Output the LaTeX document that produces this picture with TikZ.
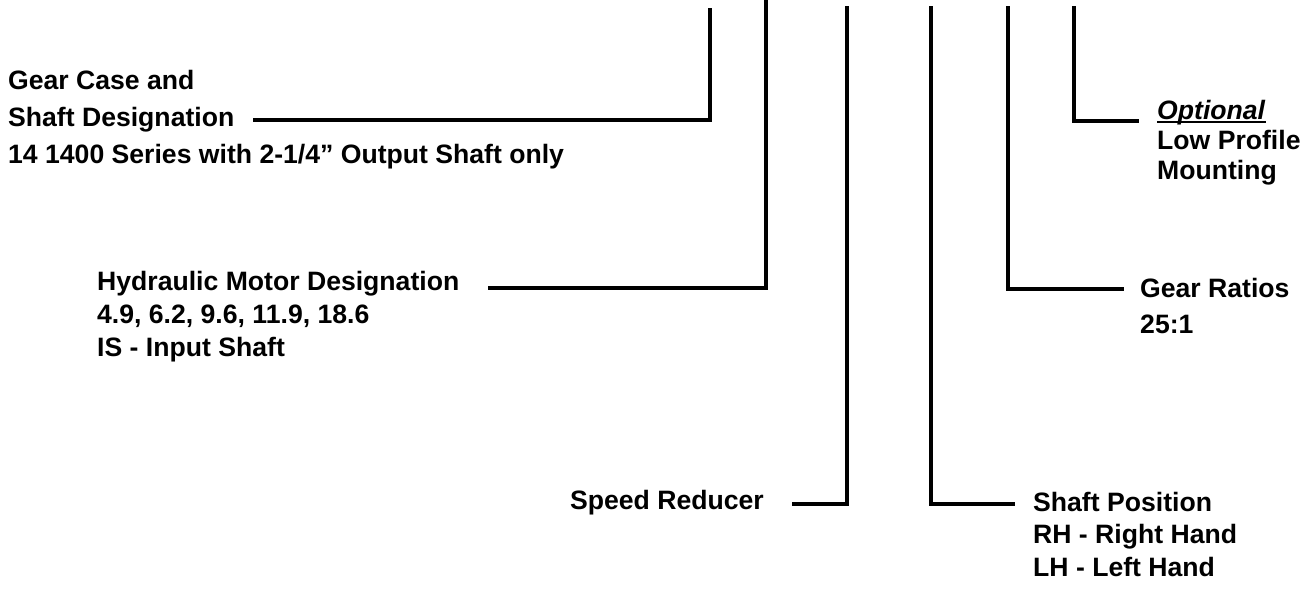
\documentclass[tikz,border=0pt]{standalone}
\usepackage{fontspec}
\setmainfont{Liberation Sans}
\usetikzlibrary{positioning}
\newcommand{\ulined}[1]{\setbox0\hbox{#1}\rlap{\rule[-3.5pt]{\wd0}{2.2pt}}\box0}
\tikzset{
  desc/.style={anchor=north west, inner sep=0pt, align=left,
    font=\bfseries\fontsize{26.6pt}{#1pt}\selectfont},
  desc/.default=32,
  leader/.style={line width=4.5pt, line join=miter, line cap=butt}
}

\begin{document}
\begin{tikzpicture}[x=1pt, y=-1pt]
  \useasboundingbox (0,0) rectangle (1315,590);

  \coordinate (casetop) at (710,8);
  \coordinate (motortop) at (766,0);
  \coordinate (reducertop) at (847,6);
  \coordinate (shafttop) at (931,6);
  \coordinate (ratiotop) at (1008,6);
  \coordinate (mounttop) at (1074,6);

  \coordinate (caseend) at (253,120);
  \coordinate (motorend) at (488,288);
  \coordinate (reducerend) at (792,504);
  \coordinate (shaftend) at (1015,504);
  \coordinate (ratioend) at (1124,289);
  \coordinate (mountend) at (1139,121);

  \node[desc=37] (gearcase) at (8,70.5)
    {Gear Case and\\Shaft Designation\\14 1400 Series with 2-1/4'' Output Shaft only};
  \node[desc=33] (motor) at (97,271.5)
    {Hydraulic Motor Designation\\4.9, 6.2, 9.6, 11.9, 18.6\\IS - Input Shaft};
  \node[desc, anchor=north east] (reducer) at (764,489.7) {Speed Reducer};
  \node[desc=32.5] (shaftpos) at (1033,491.7)
    {Shaft Position\\RH - Right Hand\\LH - Left Hand};
  \node[desc=36] (ratios) at (1140,278) {Gear Ratios\\25:1};
  \node[desc=30] (mounting) at (1157,100.5)
    {\ulined{\textit{Optional}}\\Low Profile\\Mounting};

  \draw[leader] (casetop) |- (caseend);
  \draw[leader] (motortop) |- (motorend);
  \draw[leader] (reducertop) |- (reducerend);
  \draw[leader] (shafttop) |- (shaftend);
  \draw[leader] (ratiotop) |- (ratioend);
  \draw[leader] (mounttop) |- (mountend);
\end{tikzpicture}
\end{document}
